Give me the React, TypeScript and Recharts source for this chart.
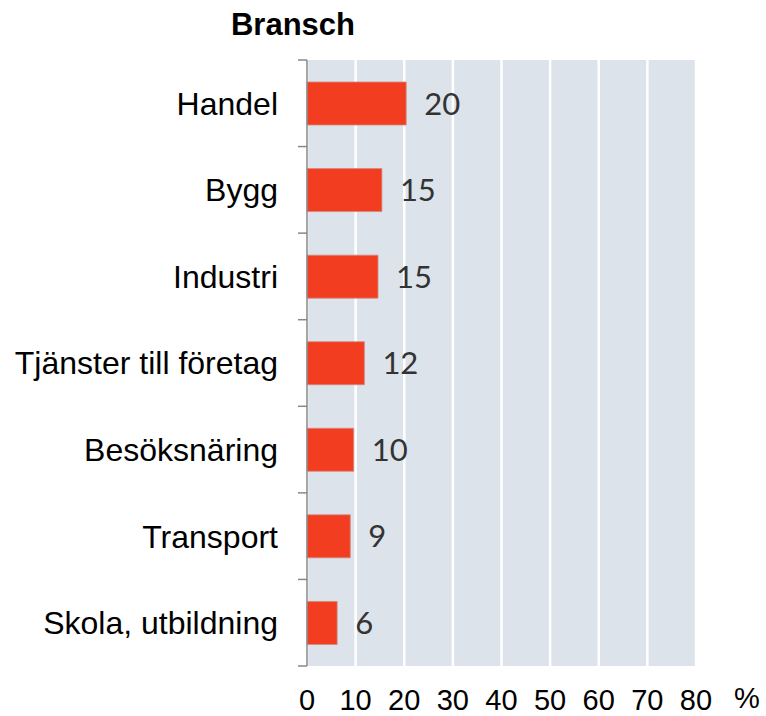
import { BarChart, Bar, XAxis, YAxis, CartesianGrid, LabelList } from 'recharts';

const branscher = [
    "Handel",
    "Bygg",
    "Industri",
    "Tjänster till företag",
    "Besöksnäring",
    "Transport",
    "Skola, utbildning",
];
const andel = [20.4, 15.4, 14.6, 11.8, 9.6, 8.9, 6.2];
const xTicks = [0, 10, 20, 30, 40, 50, 60, 70, 80];
// category boundaries, expressed on a 0..6 axis (7 bands)
const edgeTicks = [0, 1, 2, 3, 4, 5, 6, 7].map((k) => (k * 6) / 7);

const data = branscher.map((name, i) => ({ name, value: andel[i] }));

const App = () => {
    return (
        <div style={{ position: 'absolute', left: 0, top: 0, width: 766, height: 716 }}>
            <div style={{
                position: 'absolute', left: 193, top: 7, width: 200, textAlign: 'center',
                fontFamily: 'Liberation Sans, Arial, sans-serif', fontWeight: 'bold', fontSize: 31, color: '#000'
            }}>
                Bransch
            </div>
            <div style={{
                position: 'absolute', left: 734, top: 683, lineHeight: '30px',
                fontFamily: 'Liberation Sans, Arial, sans-serif', fontSize: 29, color: '#000'
            }}>
                %
            </div>
            <BarChart
                layout="vertical"
                data={data}
                width={766}
                height={716}
                margin={{ top: 60, right: 70, bottom: 0, left: 0 }}
                barSize={43}
            >
                <CartesianGrid horizontal={false} vertical={true} fill="#dce3ea" stroke="#ffffff" strokeWidth={2.5} />
                <XAxis
                    type="number"
                    domain={[0, 80]}
                    ticks={xTicks}
                    height={50}
                    axisLine={false}
                    tickLine={false}
                    tickMargin={17}
                    tick={{ fontSize: 29, fill: '#000', fontFamily: 'Liberation Sans, Arial, sans-serif' }}
                />
                <YAxis
                    yAxisId="a"
                    type="number"
                    domain={[0, 6]}
                    allowDataOverflow={true}
                    ticks={edgeTicks}
                    interval={0}
                    width={1}
                    tick={() => <g />}
                    tickSize={9}
                    axisLine={{ stroke: '#888888', strokeWidth: 1.5 }}
                    tickLine={{ stroke: '#888888', strokeWidth: 1.5 }}
                />
                <YAxis
                    yAxisId="b"
                    type="category"
                    dataKey="name"
                    width={306}
                    axisLine={false}
                    tickLine={false}
                    tickMargin={22}
                    tick={{ fontSize: 32, fill: '#000', fontFamily: 'Liberation Sans, Arial, sans-serif' }}
                />
                <Bar yAxisId="b" dataKey="value" fill="#f33d20" stroke="#d08a80" strokeWidth={0.8} isAnimationActive={false}>
                    <LabelList
                        dataKey="value"
                        position="right"
                        offset={18}
                        formatter={(v: any) => Math.round(Number(v))}
                        style={{ fontSize: 31, fill: '#333333', fontFamily: 'Lato, sans-serif' }}
                    />
                </Bar>
            </BarChart>
        </div>
    );
};

export default App;
